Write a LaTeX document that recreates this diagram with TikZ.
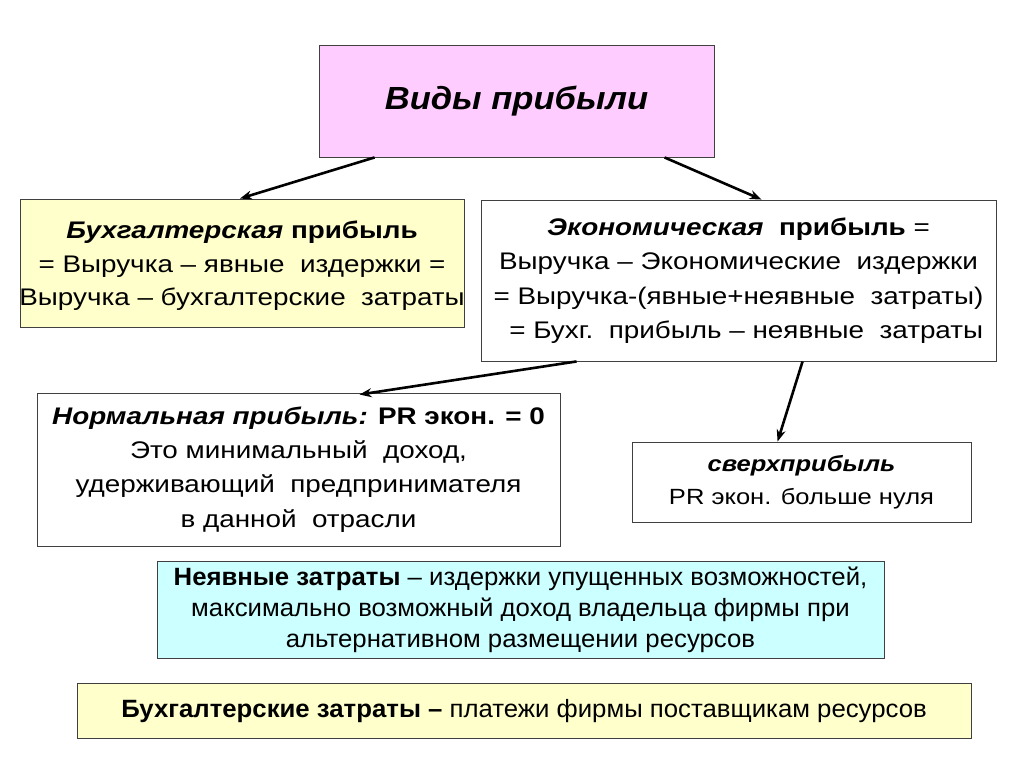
\documentclass[tikz,border=0pt]{standalone}
\usepackage{fontspec}
\setmainfont{Liberation Sans}[FakeStretch=1.16]
\newfontfamily\narrowfont{Liberation Sans}[FakeStretch=1.03]
\newfontfamily\titlefont{Liberation Sans}[FakeStretch=1.08]
\usetikzlibrary{arrows.meta}
\definecolor{pinkfill}{HTML}{FFCCFF}
\definecolor{yelfill}{HTML}{FFFFCC}
\definecolor{cyanfill}{HTML}{CCFFFF}
\definecolor{edgegray}{HTML}{404040}
\tikzset{
  box/.style={draw=edgegray, line width=0.9pt, rectangle, align=center, inner sep=0pt, text=black},
  conn/.style={line width=2.6pt, -{Stealth[length=12pt,width=9pt]}, black},
}
\begin{document}
\begin{tikzpicture}[x=1pt,y=-1pt]
\useasboundingbox[fill=white] (0,0) rectangle (1024,768);

\node[box, fill=pinkfill, minimum width=395pt, minimum height=112pt, font=\titlefont\fontsize{32}{38}\selectfont\bfseries\itshape] (top) at (516.5,101) {Виды прибыли};

\node[box, fill=yelfill, minimum width=444pt, minimum height=128pt, font=\fontsize{24}{33.5}\selectfont] (acc) at (242,263) {};
\node[align=center, inner sep=0pt, font=\fontsize{24}{33.5}\selectfont] (acctext) at (242,266)
  {\textbf{\textit{Бухгалтерская} прибыль}\\= Выручка – явные\ \ издержки =\\Выручка – бухгалтерские\ \ затраты};

\node[box, fill=white, minimum width=515pt, minimum height=161pt, font=\fontsize{24}{34.5}\selectfont] (eco) at (738.5,280.5)
  {\textbf{\textit{Экономическая}\ \ прибыль} =\\Выручка – Экономические\ \ издержки\\= Выручка-(явные+неявные\ \ затраты)\\\ \ = Бухг.\ \ прибыль – неявные\ \ затраты};

\node[box, fill=white, minimum width=523pt, minimum height=153pt, font=\fontsize{24}{34.3}\selectfont] (norm) at (298.5,469.5)
  {\textbf{\textit{Нормальная прибыль:} PR экон. = 0}\\Это минимальный\ \ доход,\\удерживающий\ \ предпринимателя\\в данной\ \ отрасли};

\node[box, fill=white, minimum width=339pt, minimum height=80pt, font=\fontsize{22}{33}\selectfont] (sup) at (801.5,482)
  {\textbf{\textit{сверхприбыль}}\\PR экон. больше нуля};

\node[box, fill=cyanfill, minimum width=727pt, minimum height=97pt, font=\narrowfont\fontsize{25}{31}\selectfont] (imp) at (520.5,610)
  {\textbf{Неявные затраты} – издержки упущенных\ возможностей,\\максимально возможный доход\ владельца фирмы при\\альтернативном размещении ресурсов};

\node[box, fill=yelfill, minimum width=894pt, minimum height=55pt, font=\narrowfont\fontsize{25}{31}\selectfont] (expl) at (524,711)
  {\textbf{Бухгалтерские затраты –} платежи фирмы поставщикам ресурсов};

\draw[conn] ([xshift=56pt]top.south west) -- ([xshift=-2pt]acc.north);
\draw[conn] ([xshift=346pt]top.south west) -- ([xshift=281pt]eco.north west);
\draw[conn] ([xshift=96pt]eco.south west) -- ([xshift=323pt,yshift=-2pt]norm.north west);
\draw[conn] ([xshift=322pt]eco.south west) -- ([xshift=146pt]sup.north west);
\end{tikzpicture}
\end{document}
